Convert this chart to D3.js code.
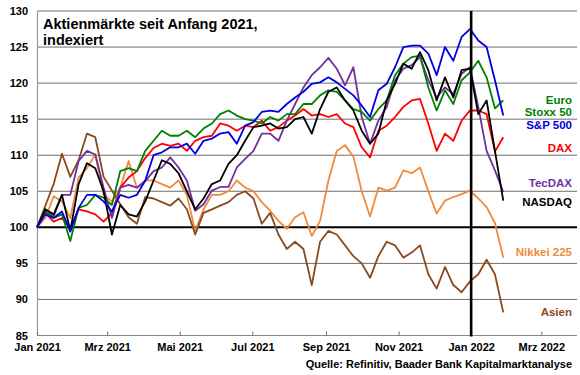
<!DOCTYPE html>
<html><head><meta charset="utf-8">
<script src="https://cdn.jsdelivr.net/npm/d3@7"></script>
<style>
body{margin:0;background:#fff}
svg{display:block}
text{font-family:"Liberation Sans",Arial,sans-serif;font-weight:bold}
</style>
</head><body>
<svg id="chart" width="580" height="375"></svg>
<script>
// ---- DATA (weekly observations, index: start 2021 = 100) ----
const startDate = "2021-01-01";
const stepDays = 7;

const euroStoxx50 = [100,102.2,101.3,101.8,98.1,102.7,103.1,104.5,104.1,103.1,107.8,108.2,107.8,110.6,112,113.4,112.7,112.7,113.4,112.5,113.7,114.4,115.7,116.2,115.5,115,114.8,114.4,115.3,114.8,115.7,115.7,117.1,117.1,118.3,119,118.8,117.6,116.4,116,114.8,116.4,117.6,121.1,122.7,123.6,123.8,119.4,116.2,119,117.1,120.4,121.5,123.1,120.8,116.5,117.6];
const sp500 = [100,101.8,101.3,102.2,99.4,102.7,104.5,104.5,103.6,102.2,104.5,104.1,104.5,106.5,110,110.4,111.1,111.1,111.6,110.2,112,112.3,113,113.2,111.6,114.1,114.6,116,116.2,116,117.1,118,118.8,119.9,120.1,120.8,120.1,119.2,118.3,116.9,115.3,119,119.9,122.2,125,125.2,125.2,124.1,121.1,125,123.1,126.4,127.5,125.9,125,120.4,115.5];
const dax = [100,102,100.8,101.3,99.9,102.5,102.2,101.8,100.8,102,105.5,106.9,107.8,109.6,111,111.6,111.3,111.6,110.6,112,112.5,112.7,114.4,114.1,113.4,114.1,113.9,114.8,113.4,113.9,114.8,115.5,116.4,115.5,115.7,115.3,115.7,114.4,113.9,111.1,109.7,113.4,114.1,115.3,116.7,117.6,117.8,114.4,110.6,113,112,114.8,116.2,116.2,115.7,110.5,112.5];
const tecdax = [100,102.5,101.5,104.5,104.5,109.2,110.6,110.1,105.5,101.3,105.5,105.9,105.5,106.4,107.8,108.3,109.7,108.3,106.5,102.3,103.2,105.1,105.6,105.6,108.3,109.5,110.6,113,113,112,114.8,117.1,119.4,121.1,122.2,123.5,122,119.7,122.2,115.3,111.6,114.8,116.7,120.4,122,122.5,123.6,120.4,118,119.4,118.5,121.3,122.2,116.7,110.6,107.9,104.9];
const nasdaq = [100,102.5,101.8,104.5,99.5,106,108.9,108.2,105,99,103.1,101.8,101.5,103.6,106.5,109.3,108.8,107.5,105,102.5,104,106,106.5,108.8,110,112,113.9,114.1,114.4,113.7,113.9,115,115.3,113,116.4,118.8,119.4,117.6,116.2,113.4,111.6,113,117.6,119.9,122.7,122,124.3,121.8,117.6,120.8,118,121.8,122,115.7,117.6,110.6,103.7];
const nikkei225 = [100,101.3,104.3,103.6,101.3,106.9,108.2,110.1,104.5,103.6,105.5,109.2,105.5,106.5,106.5,106,105.5,106.5,104.5,99.5,102.5,104.5,104.5,105,106.5,105.5,105,103.5,102.3,100.9,99.8,101.4,102.1,98.8,100.9,106.5,110.6,111.4,109.8,105,101.5,105.5,105.1,105.5,107.9,107.5,108.3,105,101.9,103.7,104.2,104.6,105.1,104,102.8,100.6,95.8];
const asien = [100,103,106,110.2,107,109.3,113,112.5,107,105.1,103.2,101.4,100.5,104.2,104,103.5,103,104,102.5,99,102,102.5,103,103.5,104.5,105,104,100.5,102,99,97,98,97,92,98,99.5,99,97.5,96,95,93,96,98,97.5,95.8,96.5,97.5,93.5,91.5,94.5,92,91,92.5,93.5,95.5,93.5,88.2];

const yTicks = [85,90,95,100,105,110,115,120,125,130];
const xTickDates = ["2021-01-01","2021-03-01","2021-05-01","2021-07-01","2021-09-01","2021-11-01","2022-01-01","2022-03-01"];
const xTickLabels = ["Jan 2021","Mrz 2021","Mai 2021","Jul 2021","Sep 2021","Nov 2021","Jan 2022","Mrz 2022"];
const titleLines = ["Aktienmärkte seit Anfang 2021,","indexiert"];
const sourceText = "Quelle: Refinitiv, Baader Bank Kapitalmarktanalyse";

// ---- STYLE / LAYOUT ----
const series = [
  {name:"Nikkei 225", values:nikkei225, color:"#f08a3c"},
  {name:"Asien", values:asien, color:"#8b4a1c"},
  {name:"DAX", values:dax, color:"#ff0000"},
  {name:"TecDAX", values:tecdax, color:"#7030a0"},
  {name:"Euro Stoxx 50", values:euroStoxx50, color:"#008000"},
  {name:"NASDAQ", values:nasdaq, color:"#000000"},
  {name:"S&P 500", values:sp500, color:"#0000e0"}
];
const legendLabels = [
  {lines:["Euro","Stoxx 50"], y:[100,112], color:"#008000"},
  {lines:["S&P 500"], y:[125], color:"#0000e0"},
  {lines:["DAX"], y:[148], color:"#ff0000"},
  {lines:["TecDAX"], y:[183], color:"#7030a0"},
  {lines:["NASDAQ"], y:[202], color:"#000000"},
  {lines:["Nikkei 225"], y:[252], color:"#f08a3c"},
  {lines:["Asien"], y:[312], color:"#8b4a1c"}
];

(function(){
const parse = d3.timeParse("%Y-%m-%d");
const start = parse(startDate);
const svg = d3.select("#chart");
const mLeft = 37, mRight = 577, mTop = 11, mBottom = 335.5;

const x = d3.scaleTime().domain([parse("2021-01-01"), parse("2022-03-31")]).range([mLeft, mRight]);
const y = d3.scaleLinear().domain([85,130]).range([mBottom, mTop]);

// gridlines
svg.append("g").selectAll("line").data(yTicks.filter(v=>v!==100)).join("line")
  .attr("x1", mLeft).attr("x2", mRight)
  .attr("y1", d=>y(d)).attr("y2", d=>y(d))
  .attr("stroke", d=> d===85 ? "#8a8a8a" : "#6e6e6e").attr("stroke-width", 1);

// y axis
const yAxis = svg.append("g").attr("transform", `translate(${mLeft},0)`)
  .call(d3.axisLeft(y).tickValues(yTicks).tickSize(0).tickPadding(9).tickFormat(d3.format("d")));
yAxis.select(".domain").attr("stroke", "#9a9a9a").attr("stroke-width", 1.2);
yAxis.selectAll("text").attr("font-size", 11).attr("fill", "#000")
  .style("font-family", '"Liberation Sans",Arial,sans-serif').style("font-weight","bold");

// x axis
const xAxis = svg.append("g").attr("transform", `translate(0,${mBottom})`)
  .call(d3.axisBottom(x).tickValues(xTickDates.map(parse)).tickSizeInner(-4).tickSizeOuter(0).tickPadding(8)
    .tickFormat((d,i)=>xTickLabels[i]));
xAxis.select(".domain").remove();
xAxis.selectAll(".tick line").attr("stroke", "#6e6e6e");
xAxis.selectAll("text").attr("font-size", 11).attr("fill", "#000")
  .style("font-family", '"Liberation Sans",Arial,sans-serif').style("font-weight","bold");

// 100 line
svg.append("line").attr("x1", mLeft).attr("x2", mRight)
  .attr("y1", y(100)).attr("y2", y(100)).attr("stroke", "#000").attr("stroke-width", 2);

// series lines
const line = d3.line().x((d,i)=>x(d3.timeDay.offset(start, i*stepDays))).y(d=>y(d));
svg.append("g").selectAll("path").data(series).join("path")
  .attr("d", d=>line(d.values))
  .attr("fill","none").attr("stroke", d=>d.color).attr("stroke-width", 1.8)
  .attr("stroke-linejoin","round");

// year-change marker
svg.append("line").attr("x1", x(parse("2022-01-01"))).attr("x2", x(parse("2022-01-01")))
  .attr("y1", mTop).attr("y2", mBottom + 1).attr("stroke", "#000").attr("stroke-width", 2.6);

// title
svg.append("text").attr("x", 43).attr("y", 29).attr("font-size", 14.5).attr("fill","#000")
  .selectAll("tspan").data(titleLines).join("tspan")
  .attr("x", 43).attr("dy", (d,i)=> i ? 15.5 : 0).text(d=>d);

// legend labels
legendLabels.forEach(l=>{
  l.lines.forEach((t,i)=>{
    svg.append("text").attr("x", 572).attr("y", l.y[i]).attr("text-anchor","end")
      .attr("dominant-baseline","central").attr("font-size", 11.5).attr("fill", l.color).text(t);
  });
});

// source
svg.append("text").attr("x", 572).attr("y", 368).attr("text-anchor","end")
  .attr("font-size", 11).attr("fill","#000").text(sourceText);
})();
</script>
</body></html>
